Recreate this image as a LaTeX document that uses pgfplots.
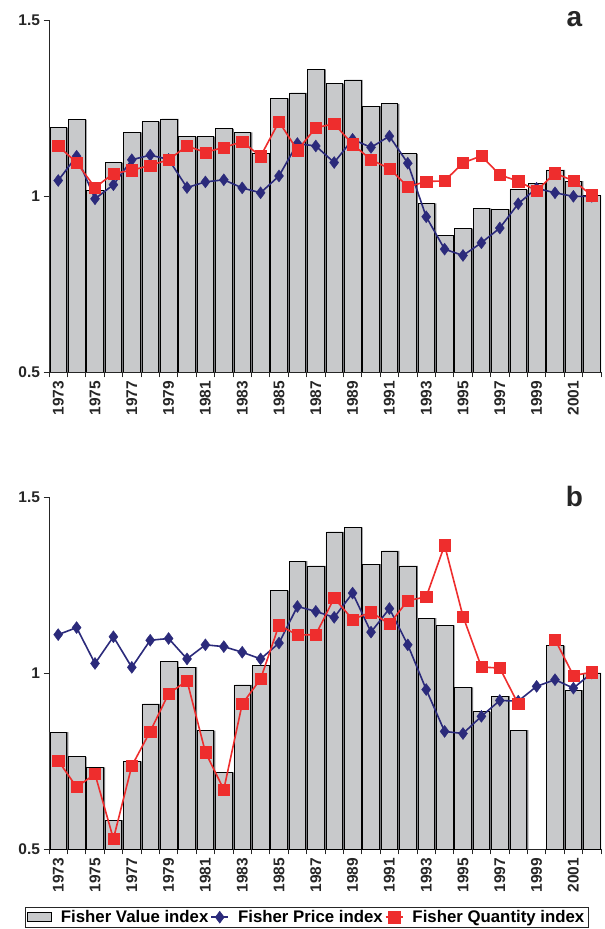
\documentclass[border=0pt]{standalone}
\usepackage{pgfplots}
\pgfplotsset{compat=1.18}
\usepackage{pgfplotstable}
\usepackage{fontspec}
\setmainfont{Liberation Sans}

\definecolor{barfill}{HTML}{C8C9CB}
\definecolor{barshade}{HTML}{77777A}
\definecolor{pricecol}{HTML}{2B2A7B}
\definecolor{qtycol}{HTML}{EE2D2D}

% Fisher indices, panel a
\pgfplotstableread{
year value price quantity
1973 1.194 1.044 1.142
1974 1.217 1.113 1.095
1975 1.016 0.992 1.024
1976 1.095 1.032 1.064
1977 1.181 1.103 1.073
1978 1.211 1.116 1.087
1979 1.219 1.104 1.103
1980 1.169 1.024 1.142
1981 1.169 1.040 1.124
1982 1.191 1.046 1.138
1983 1.181 1.023 1.154
1984 1.121 1.009 1.113
1985 1.277 1.057 1.211
1986 1.293 1.149 1.130
1987 1.360 1.142 1.194
1988 1.319 1.095 1.205
1989 1.330 1.161 1.147
1990 1.255 1.138 1.103
1991 1.262 1.170 1.078
1992 1.120 1.093 1.026
1993 0.979 0.941 1.041
1994 0.887 0.849 1.043
1995 0.907 0.831 1.094
1996 0.965 0.867 1.114
1997 0.962 0.909 1.060
1998 1.018 0.978 1.042
1999 1.035 1.022 1.015
2000 1.074 1.009 1.065
2001 1.042 0.999 1.043
2002 1.001 0.999 1.002
}\panelA

% Fisher indices, panel b (no value/quantity data for 1999)
\pgfplotstableread{
year value price quantity
1973 0.832 1.109 0.751
1974 0.762 1.129 0.676
1975 0.732 1.027 0.713
1976 0.582 1.103 0.529
1977 0.749 1.016 0.736
1978 0.912 1.093 0.834
1979 1.033 1.098 0.941
1980 1.017 1.040 0.978
1981 0.836 1.080 0.775
1982 0.718 1.075 0.669
1983 0.966 1.059 0.912
1984 1.021 1.040 0.983
1985 1.234 1.085 1.136
1986 1.318 1.189 1.108
1987 1.304 1.175 1.109
1988 1.401 1.158 1.213
1989 1.414 1.227 1.152
1990 1.309 1.116 1.173
1991 1.347 1.183 1.139
1992 1.304 1.080 1.206
1993 1.156 0.953 1.216
1994 1.135 0.834 1.363
1995 0.959 0.828 1.161
1996 0.890 0.877 1.017
1997 0.934 0.922 1.014
1998 0.838 0.920 0.912
1999 nan   0.962 nan
2000 1.078 0.981 1.095
2001 0.951 0.957 0.993
2002 1.000 1.000 1.002
}\panelB

\pgfplotsset{
  panel/.style={
    scale only axis, width=552pt, height=352pt,
    xmin=1972.5, xmax=2002.5, ymin=0.5, ymax=1.5,
    axis x line*=bottom, axis y line*=left,
    axis line style={line width=0.8pt, black!85},
    tick align=outside,
    major tick length=5.5pt,
    tick style={line width=0.8pt, black!85},
    ytick={0.5,1,1.5}, yticklabels={0.5,1,1.5},
    xtick={1972.5,1973.5,...,2002.5}, xticklabels={},
    extra x ticks={1973,1975,...,2001},
    extra x tick labels={1973,1975,1977,1979,1981,1983,1985,1987,1989,1991,1993,1995,1997,1999,2001},
    extra x tick style={tick style={draw=none}},
    xticklabel style={rotate=90, anchor=east, font=\bfseries\fontsize{15.5}{15.5}\selectfont, text=black!85},
    yticklabel style={font=\bfseries\fontsize{15.5}{15.5}\selectfont, text=black!85},
    clip mode=individual,
  },
  valueshade/.style={ybar, bar width=0.9, bar shift=1.8pt, fill=barshade, draw=none, forget plot},
  valuebar/.style={ybar, bar width=0.9, bar shift=0pt, fill=barfill, draw=black, line width=0.6pt,
    legend image code/.code={\draw[fill=barfill, draw=black, line width=0.6pt] (0pt,-4.5pt) rectangle (24pt,4.5pt);}},
  priceline/.style={pricecol, line width=1.6pt, mark=diamond*, mark size=6pt, mark options={solid, line width=0.4pt}},
  qtyline/.style={qtycol, line width=1.6pt, mark=square*, mark size=5.6pt, mark options={solid, line width=0.4pt}},
}

\begin{document}
\begin{tikzpicture}
\useasboundingbox (0pt,0pt) rectangle (605pt,929pt);

% panel a
\begin{axis}[panel, at={(49pt,557pt)}, anchor=south west]
  \addplot[valueshade] table[x=year, y=value] {\panelA};
  \addplot[valuebar] table[x=year, y=value] {\panelA};
  \addplot[priceline] table[x=year, y=price] {\panelA};
  \addplot[qtyline] table[x=year, y=quantity] {\panelA};
\end{axis}

% panel b
\begin{axis}[panel, at={(49pt,80pt)}, anchor=south west,
    legend columns=3,
    legend style={at={(0.467,-0.165)}, anchor=north, draw=black!85, line width=0.6pt,
      font=\bfseries\fontsize{16.8}{17}\selectfont, inner ysep=1pt, inner xsep=2pt,
      /tikz/every odd column/.append style={column sep=7pt}},
  ]
  \addplot[valueshade] table[x=year, y=value] {\panelB};
  \addplot[valuebar] table[x=year, y=value] {\panelB};
  \addlegendentry{Fisher Value index}
  \addplot[priceline] table[x=year, y=price] {\panelB};
  \addlegendentry{Fisher Price index}
  \addplot[qtyline, unbounded coords=jump] table[x=year, y=quantity] {\panelB};
  \addlegendentry{Fisher Quantity index}
\end{axis}

\node[font=\bfseries\fontsize{28}{28}\selectfont, text=black!85] at (574.5pt,910pt) {a};
\node[font=\bfseries\fontsize{28}{28}\selectfont, text=black!85] at (574.5pt,433pt) {b};
\end{tikzpicture}
\end{document}
